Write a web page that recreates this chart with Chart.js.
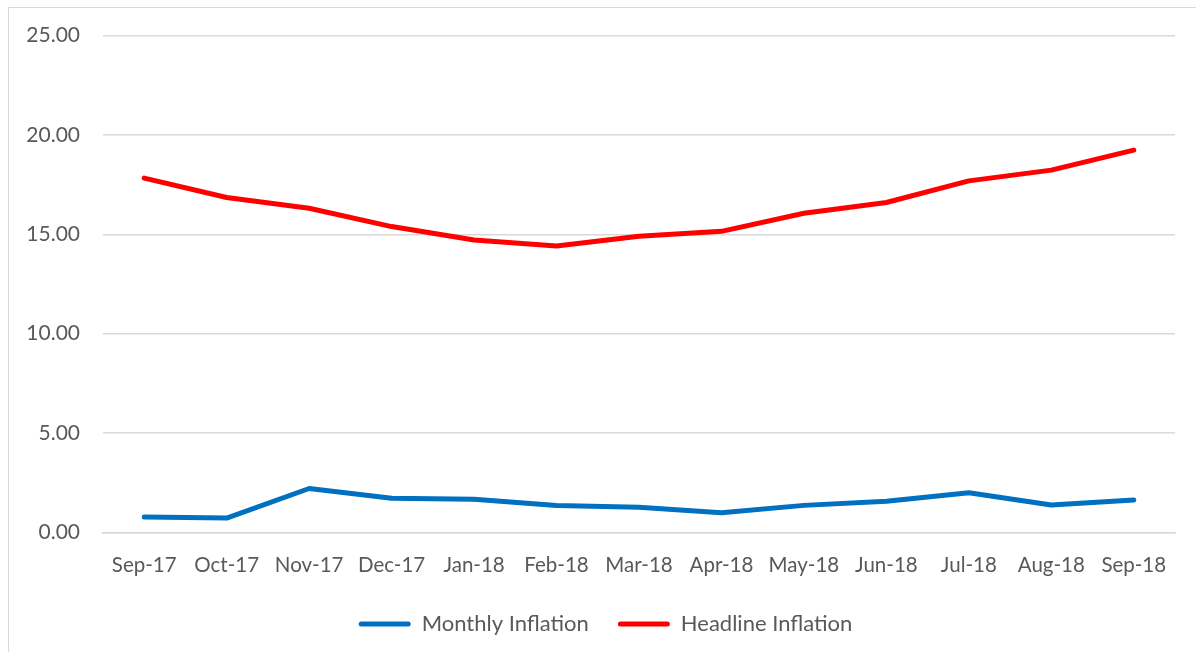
<!DOCTYPE html>
<html>
<head>
<meta charset="utf-8">
<script src="https://cdn.jsdelivr.net/npm/chart.js@4"></script>
<style>
html,body{margin:0;padding:0;background:#fff;overflow:hidden;}
#frame{position:absolute;left:8px;top:7px;width:1200px;height:660px;border:1.5px solid #d9d9d9;}
#wrap{position:absolute;left:0;top:0;width:1196px;height:652px;}
</style>
</head>
<body>
<div id="frame"></div>
<div id="wrap"><canvas id="c" width="1196" height="652"></canvas></div>
<script>
const categories = ["Sep-17","Oct-17","Nov-17","Dec-17","Jan-18","Feb-18","Mar-18","Apr-18","May-18","Jun-18","Jul-18","Aug-18","Sep-18"];
const monthlyInflation = [0.77,0.72,2.21,1.72,1.67,1.35,1.26,0.99,1.36,1.57,2.00,1.38,1.63];
const headlineInflation = [17.83,16.85,16.31,15.39,14.71,14.41,14.90,15.15,16.06,16.60,17.69,18.23,19.24];
const yTicks = [0,5,10,15,20,25];

const FONT = "Lato, 'Open Sans', sans-serif";
const TXT = "#595959";

// nudge the legend box only (does not affect the plot area)
const shiftLegend = {
  id:'shiftLegend',
  afterLayout(chart){
    const lg = chart.legend;
    if(lg){ lg.left += 18; lg.right += 18; lg.top -= 15; lg.bottom -= 15; }
  }
};

new Chart(document.getElementById('c'), {
  type: 'line',
  data: {
    labels: categories,
    datasets: [
      {label:'Monthly Inflation', data: monthlyInflation, borderColor:'#0070C0', backgroundColor:'#0070C0', borderWidth:5, pointRadius:0, tension:0, borderCapStyle:'round', borderJoinStyle:'round'},
      {label:'Headline Inflation', data: headlineInflation, borderColor:'#FF0000', backgroundColor:'#FF0000', borderWidth:5, pointRadius:0, tension:0, borderCapStyle:'round', borderJoinStyle:'round'}
    ]
  },
  plugins:[shiftLegend],
  options: {
    responsive:false,
    animation:false,
    devicePixelRatio:1,
    layout:{padding:{left:0,right:21,top:29,bottom:-8}},
    plugins:{
      tooltip:{enabled:false},
      legend:{
        position:'bottom',
        labels:{
          color:TXT,
          font:{family:FONT,size:22},
          boxWidth:52,
          boxHeight:5,
          useBorderRadius:true,
          borderRadius:2.5,
          padding:29,
          generateLabels(chart){
            return chart.data.datasets.map((d,i)=>({text:d.label,fillStyle:d.borderColor,strokeStyle:d.borderColor,lineWidth:0,fontColor:TXT,datasetIndex:i,hidden:false,borderRadius:2.5}));
          }
        }
      }
    },
    scales:{
      x:{
        offset:true,
        grid:{display:false,drawTicks:false},
        border:{display:true,color:'#d9d9d9',width:1.5},
        ticks:{color:TXT,font:{family:FONT,size:20.5},padding:21,maxRotation:0,autoSkip:false}
      },
      y:{
        min:0,max:25,
        afterFit(s){s.width=103;},
        afterBuildTicks(s){s.ticks=yTicks.map(v=>({value:v}));},
        grid:{color:'#d9d9d9',lineWidth:1.5,drawTicks:false},
        border:{display:false},
        ticks:{color:TXT,font:{family:FONT,size:21},padding:23,callback:v=>Number(v).toFixed(2)}
      }
    }
  }
});
</script>
</body>
</html>
